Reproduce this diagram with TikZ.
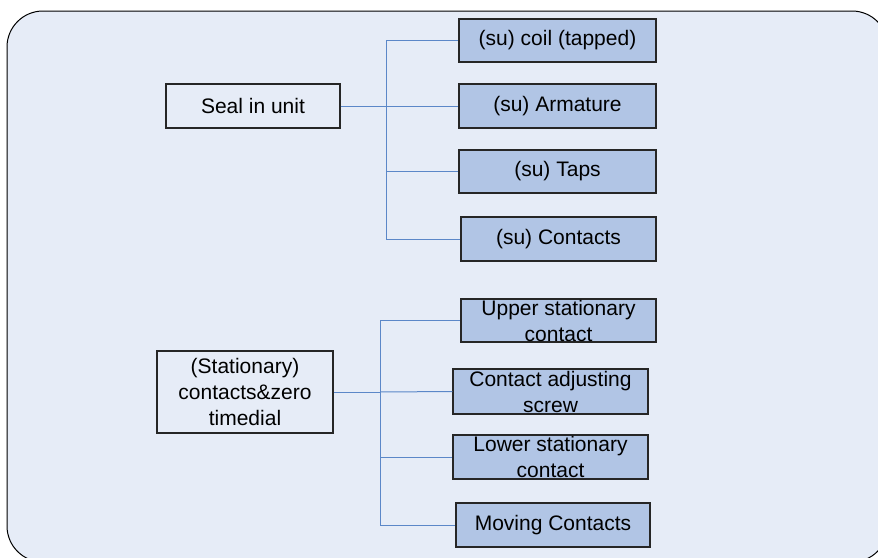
\documentclass[tikz,border=0pt]{standalone}
\usepackage{fontspec}
\setmainfont{Liberation Sans}
\begin{document}
\begin{tikzpicture}[x=1pt,y=-1pt,
  panel/.style={draw=black,line width=1pt,fill=panelbg,rounded corners=36pt},
  topbox/.style={draw=boxline,line width=1.3pt,rectangle,inner sep=0pt,align=center,
    font=\fontsize{21}{26}\selectfont},
  partbox/.style={topbox,fill=partfill},
  conn/.style={draw=connblue,line width=1pt}]
\definecolor{panelbg}{HTML}{E6ECF7}
\definecolor{partfill}{HTML}{B1C5E5}
\definecolor{boxline}{HTML}{262626}
\definecolor{connblue}{HTML}{5B87C8}
\useasboundingbox (0,0) rectangle (878,557);
\clip (0,0) rectangle (878,557);
\fill[white] (0,0) rectangle (878,557);
\draw[panel] (7,11) rectangle (888,562);

% seal-in unit and its parts
\node[topbox,minimum width=174pt,minimum height=44pt] (seal) at (253,106) {Seal in unit};
\node[partbox,minimum width=197pt,minimum height=43pt] (c1) at (557.5,40.5) {(su) coil (tapped)};
\node[partbox,minimum width=197pt,minimum height=44pt] (c2) at (557.5,106) {(su) Armature};
\node[partbox,minimum width=197pt,minimum height=43pt] (c3) at (557.5,171.5) {(su) Taps};
\node[partbox,minimum width=195pt,minimum height=44pt] (c4) at (558.5,239) {(su) Contacts};

\coordinate (sb) at (386,106);
\draw[conn] (seal.east) -- (sb);
\draw[conn] (sb) |- (c1.west);
\draw[conn] (sb) -- (c2.west);
\draw[conn] (sb) |- (c3.west);
\draw[conn] (sb) |- (c4.west);

% stationary contacts and zero timedial with its parts
\node[topbox,minimum width=176pt,minimum height=82pt] (stat) at (245,392) {(Stationary)\\contacts\&zero\\timedial};
\node[partbox,minimum width=195pt,minimum height=43pt] (u1) at (558.5,320.5) {Upper stationary\\contact};
\node[partbox,minimum width=195pt,minimum height=45pt] (u2) at (550.5,391.5) {Contact adjusting\\screw};
\node[partbox,minimum width=195pt,minimum height=44pt] (u3) at (550.5,457) {Lower stationary\\contact};
\node[partbox,minimum width=194pt,minimum height=44pt] (u4) at (553,525) {Moving Contacts};

\coordinate (tb) at (380,392);
\draw[conn] (stat.east) -- (tb);
\draw[conn] (tb) |- (u1.west);
\draw[conn] (tb) -- (u2.west);
\draw[conn] (tb) |- (u3.west);
\draw[conn] (tb) |- (u4.west);
\end{tikzpicture}
\end{document}
